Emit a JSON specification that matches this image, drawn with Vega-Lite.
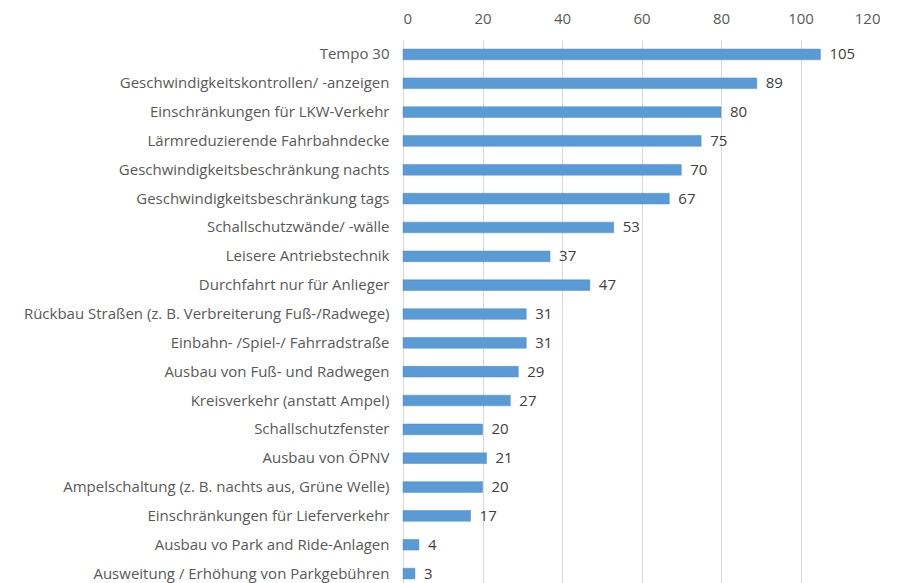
{
  "$schema": "https://vega.github.io/schema/vega-lite/v6.json",
  "autosize": {"type": "none"},
  "padding": {"left": 403, "top": 40, "right": 0, "bottom": 0},
  "width": 477,
  "height": 548,
  "background": "white",
  "config": {"view": {"stroke": null}, "font": "Open Sans"},
  "data": {"values": [
    {"order": 1, "label": "Tempo 30", "value": 105},
    {"order": 2, "label": "Geschwindigkeitskontrollen/ -anzeigen", "value": 89},
    {"order": 3, "label": "Einschränkungen für LKW-Verkehr", "value": 80},
    {"order": 4, "label": "Lärmreduzierende Fahrbahndecke", "value": 75},
    {"order": 5, "label": "Geschwindigkeitsbeschränkung nachts", "value": 70},
    {"order": 6, "label": "Geschwindigkeitsbeschränkung tags", "value": 67},
    {"order": 7, "label": "Schallschutzwände/ -wälle", "value": 53},
    {"order": 8, "label": "Leisere Antriebstechnik", "value": 37},
    {"order": 9, "label": "Durchfahrt nur für Anlieger", "value": 47},
    {"order": 10, "label": "Rückbau Straßen (z. B. Verbreiterung Fuß-/Radwege)", "value": 31},
    {"order": 11, "label": "Einbahn- /Spiel-/ Fahrradstraße", "value": 31},
    {"order": 12, "label": "Ausbau von Fuß- und Radwegen", "value": 29},
    {"order": 13, "label": "Kreisverkehr (anstatt Ampel)", "value": 27},
    {"order": 14, "label": "Schallschutzfenster", "value": 20},
    {"order": 15, "label": "Ausbau von ÖPNV", "value": 21},
    {"order": 16, "label": "Ampelschaltung (z. B. nachts aus, Grüne Welle)", "value": 20},
    {"order": 17, "label": "Einschränkungen für Lieferverkehr", "value": 17},
    {"order": 18, "label": "Ausbau vo Park and Ride-Anlagen", "value": 4},
    {"order": 19, "label": "Ausweitung / Erhöhung von Parkgebühren", "value": 3}
  ]},
  "encoding": {
    "y": {
      "field": "label", "type": "nominal",
      "sort": {"field": "order", "op": "min", "order": "ascending"},
      "scale": {"paddingInner": 0.63, "paddingOuter": 0.315},
      "axis": {
        "title": null, "domain": false, "ticks": false, "grid": false,
        "labelFontSize": 15, "labelColor": "#595959", "labelPadding": 14,
        "labelFont": "Open Sans", "labelLimit": 400
      }
    },
    "x": {
      "field": "value", "type": "quantitative",
      "scale": {"domain": [0, 120], "nice": false},
      "axis": {
        "orient": "top", "title": null, "values": [0, 20, 40, 60, 80, 100, 120],
        "domain": false, "ticks": false, "grid": true, "gridColor": "#d9d9d9",
        "labelFontSize": 15, "labelColor": "#595959", "labelPadding": 14,
        "labelFont": "Open Sans"
      }
    }
  },
  "layer": [
    {"mark": {"type": "bar", "color": "#5b9bd5", "stroke": "#4a8ccd", "strokeWidth": 0.5}},
    {"mark": {"type": "text", "align": "left", "dx": 9, "fontSize": 15, "color": "#404040", "font": "Open Sans"},
     "encoding": {"text": {"field": "value", "type": "quantitative"}}}
  ]
}
